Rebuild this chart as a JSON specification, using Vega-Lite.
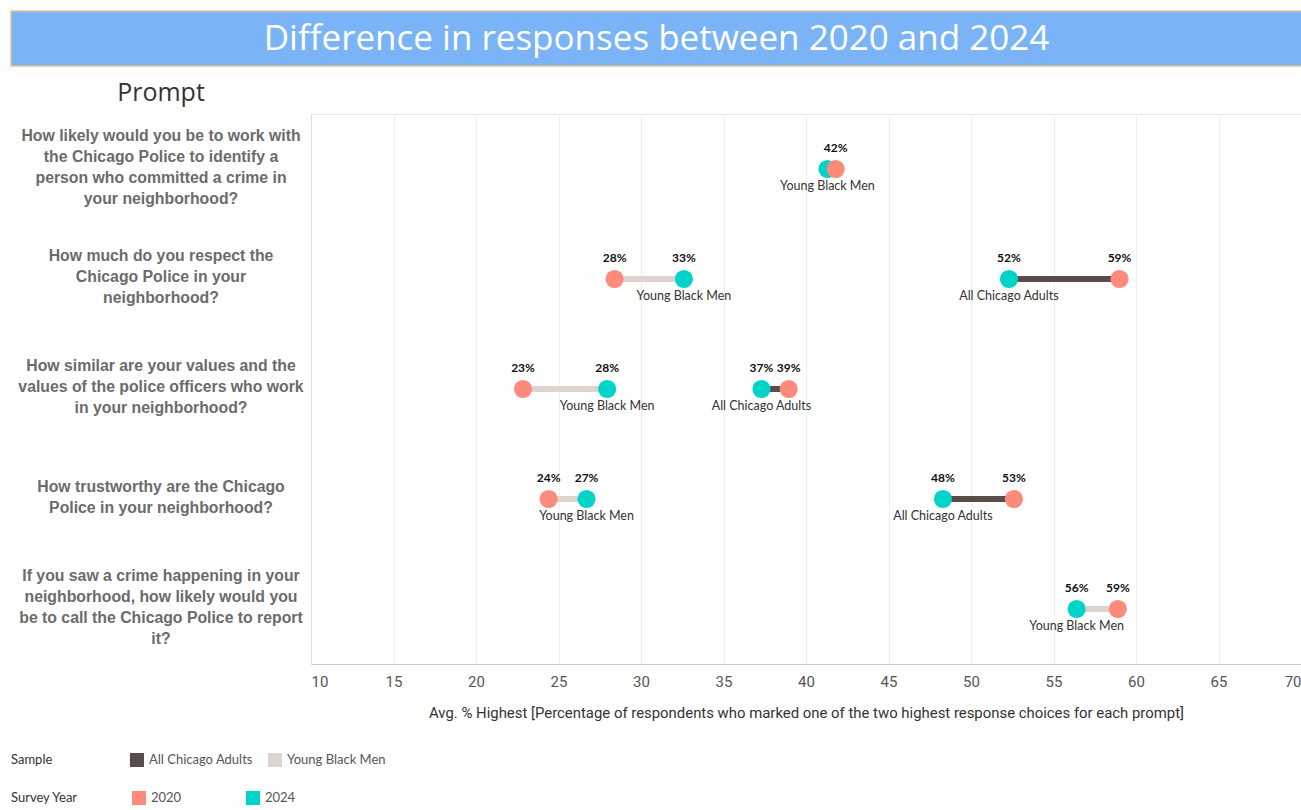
{
  "$schema": "https://vega.github.io/schema/vega-lite/v6.json",
  "background": "white",
  "padding": {"left": 10, "top": 10, "right": 0, "bottom": 0},
  "spacing": 14,
  "datasets": {
    "prompts": [
      {"prompt": "How likely would you be to work with\nthe Chicago Police to identify a\nperson who committed a crime in\nyour neighborhood?"},
      {"prompt": "How much do you respect the\nChicago Police in your\nneighborhood?"},
      {"prompt": "How similar are your values and the\nvalues of the police officers who work\nin your neighborhood?"},
      {"prompt": "How trustworthy are the Chicago\nPolice in your neighborhood?"},
      {"prompt": "If you saw a crime happening in your\nneighborhood, how likely would you\nbe to call the Chicago Police to report\nit?"}
    ],
    "responses": [
      {"prompt": "How likely would you be to work with\nthe Chicago Police to identify a\nperson who committed a crime in\nyour neighborhood?", "sample": "Young Black Men", "year": "2024", "value": 41.3, "label": ""},
      {"prompt": "How likely would you be to work with\nthe Chicago Police to identify a\nperson who committed a crime in\nyour neighborhood?", "sample": "Young Black Men", "year": "2020", "value": 41.8, "label": "42%"},
      {"prompt": "How much do you respect the\nChicago Police in your\nneighborhood?", "sample": "Young Black Men", "year": "2024", "value": 32.6, "label": "33%"},
      {"prompt": "How much do you respect the\nChicago Police in your\nneighborhood?", "sample": "Young Black Men", "year": "2020", "value": 28.4, "label": "28%"},
      {"prompt": "How much do you respect the\nChicago Police in your\nneighborhood?", "sample": "All Chicago Adults", "year": "2024", "value": 52.3, "label": "52%"},
      {"prompt": "How much do you respect the\nChicago Police in your\nneighborhood?", "sample": "All Chicago Adults", "year": "2020", "value": 59.0, "label": "59%"},
      {"prompt": "How similar are your values and the\nvalues of the police officers who work\nin your neighborhood?", "sample": "Young Black Men", "year": "2024", "value": 27.95, "label": "28%"},
      {"prompt": "How similar are your values and the\nvalues of the police officers who work\nin your neighborhood?", "sample": "Young Black Men", "year": "2020", "value": 22.85, "label": "23%"},
      {"prompt": "How similar are your values and the\nvalues of the police officers who work\nin your neighborhood?", "sample": "All Chicago Adults", "year": "2024", "value": 37.3, "label": "37%"},
      {"prompt": "How similar are your values and the\nvalues of the police officers who work\nin your neighborhood?", "sample": "All Chicago Adults", "year": "2020", "value": 38.95, "label": "39%"},
      {"prompt": "How trustworthy are the Chicago\nPolice in your neighborhood?", "sample": "Young Black Men", "year": "2024", "value": 26.7, "label": "27%"},
      {"prompt": "How trustworthy are the Chicago\nPolice in your neighborhood?", "sample": "Young Black Men", "year": "2020", "value": 24.4, "label": "24%"},
      {"prompt": "How trustworthy are the Chicago\nPolice in your neighborhood?", "sample": "All Chicago Adults", "year": "2024", "value": 48.3, "label": "48%"},
      {"prompt": "How trustworthy are the Chicago\nPolice in your neighborhood?", "sample": "All Chicago Adults", "year": "2020", "value": 52.6, "label": "53%"},
      {"prompt": "If you saw a crime happening in your\nneighborhood, how likely would you\nbe to call the Chicago Police to report\nit?", "sample": "Young Black Men", "year": "2024", "value": 56.4, "label": "56%"},
      {"prompt": "If you saw a crime happening in your\nneighborhood, how likely would you\nbe to call the Chicago Police to report\nit?", "sample": "Young Black Men", "year": "2020", "value": 58.9, "label": "59%"}
    ]
  },
  "vconcat": [
    {
      "width": 1291,
      "height": 55,
      "data": {"values": [{"title": "Difference in responses between 2020 and 2024"}]},
      "view": {"fill": "#7ab4f6", "stroke": "#e4c48e", "strokeWidth": 1.5},
      "mark": {"type": "text", "color": "white", "font": "Open Sans", "fontSize": 35, "align": "center", "baseline": "middle"},
      "encoding": {"text": {"field": "title", "type": "nominal"}}
    },
    {
      "spacing": -3,
      "hconcat": [
        {
          "width": 300,
          "height": 550,
          "data": {"name": "prompts"},
          "view": {"stroke": null},
          "title": {"text": "Prompt", "font": "Open Sans", "fontSize": 25, "fontWeight": "normal", "color": "#333333", "anchor": "middle", "offset": 8},
          "mark": {
            "type": "text",
            "font": "Liberation Sans",
            "fontWeight": "bold",
            "fontSize": 15.8,
            "color": "#6b6b6b",
            "align": "center",
            "baseline": "middle",
            "lineBreak": "\n",
            "lineHeight": 21,
            "dy": {"expr": "-(length(split(datum.prompt, '\\n')) - 1) * 10.5 - 2"}
          },
          "encoding": {
            "y": {
              "field": "prompt",
              "type": "nominal",
              "sort": null,
              "scale": {"type": "point", "padding": 0.5},
              "axis": null
            },
            "text": {"field": "prompt", "type": "nominal"}
          }
        },
        {
          "width": 990,
          "height": 550,
          "data": {"name": "responses"},
          "view": {"stroke": "#e5e5e5"},
          "encoding": {
            "y": {
              "field": "prompt",
              "type": "nominal",
              "sort": [
                "How likely would you be to work with\nthe Chicago Police to identify a\nperson who committed a crime in\nyour neighborhood?",
                "How much do you respect the\nChicago Police in your\nneighborhood?",
                "How similar are your values and the\nvalues of the police officers who work\nin your neighborhood?",
                "How trustworthy are the Chicago\nPolice in your neighborhood?",
                "If you saw a crime happening in your\nneighborhood, how likely would you\nbe to call the Chicago Police to report\nit?"
              ],
              "scale": {"type": "point", "padding": 0.5},
              "axis": {"title": null, "labels": false, "ticks": false, "grid": false, "domain": true, "domainColor": "#dddddd"}
            },
            "x": {
              "field": "value",
              "type": "quantitative",
              "scale": {"domain": [10, 70], "nice": false, "zero": false},
              "axis": {
                "values": [10, 15, 20, 25, 30, 35, 40, 45, 50, 55, 60, 65, 70],
                "title": "Avg. % Highest [Percentage of respondents who marked one of the two highest response choices for each prompt]",
                "titleFont": "Roboto",
                "titleFontSize": 14.9,
                "titleFontWeight": "normal",
                "titleColor": "#333333",
                "titlePadding": 16,
                "labelFont": "Roboto",
                "labelFontSize": 15,
                "labelColor": "#555555",
                "labelPadding": 10,
                "labelFlush": true,
                "ticks": false,
                "domainColor": "#cccccc",
                "grid": true,
                "gridColor": "#eeeeee"
              }
            }
          },
          "layer": [
            {
              "mark": {"type": "line", "strokeWidth": 6, "strokeCap": "butt"},
              "encoding": {
                "stroke": {
                  "field": "sample",
                  "type": "nominal",
                  "scale": {"domain": ["All Chicago Adults", "Young Black Men"], "range": ["#5a4c49", "#ddd4cf"]},
                  "legend": {
                    "title": "Sample",
                    "orient": "none",
                    "legendX": 0,
                    "legendY": 742,
                    "direction": "horizontal",
                    "titleOrient": "left",
                    "titlePadding": 77,
                    "titleFont": "Lato",
                    "titleFontSize": 13,
                    "titleFontWeight": "normal",
                    "titleColor": "#333333",
                    "labelFont": "Lato",
                    "labelFontSize": 13,
                    "labelColor": "#555555",
                    "labelOffset": 5,
                    "symbolType": "square",
                    "symbolSize": 196,
                    "symbolStrokeWidth": 0,
                    "columnPadding": 15,
                    "encode": {"symbols": {"update": {"fill": {"scale": "stroke", "field": "value"}, "strokeWidth": {"value": 0}}}}
                  }
                },
                "detail": {"field": "prompt", "type": "nominal"}
              }
            },
            {
              "mark": {"type": "circle", "size": 330, "opacity": 1},
              "encoding": {
                "fill": {
                  "field": "year",
                  "type": "nominal",
                  "scale": {"domain": ["2020", "2024"], "range": ["#fe8a7b", "#00d4c8"]},
                  "legend": {
                    "title": "Survey Year",
                    "orient": "none",
                    "legendX": 0,
                    "legendY": 780,
                    "direction": "horizontal",
                    "titleOrient": "left",
                    "titlePadding": 54,
                    "titleFont": "Lato",
                    "titleFontSize": 13,
                    "titleFontWeight": "normal",
                    "titleColor": "#333333",
                    "labelFont": "Lato",
                    "labelFontSize": 13,
                    "labelColor": "#555555",
                    "labelOffset": 5,
                    "symbolType": "square",
                    "symbolSize": 196,
                    "symbolStrokeWidth": 0,
                    "columnPadding": 64
                  }
                }
              }
            },
            {
              "mark": {"type": "text", "dy": -21, "font": "Lato", "fontSize": 12, "fontWeight": "bold", "color": "#111111", "baseline": "middle"},
              "encoding": {"text": {"field": "label", "type": "nominal"}}
            },
            {
              "transform": [{"filter": "datum.year == '2024'"}],
              "mark": {"type": "text", "dy": 17, "font": "Lato", "fontSize": 12.5, "color": "#333333", "baseline": "middle"},
              "encoding": {"text": {"field": "sample", "type": "nominal"}}
            }
          ]
        }
      ]
    }
  ]
}
